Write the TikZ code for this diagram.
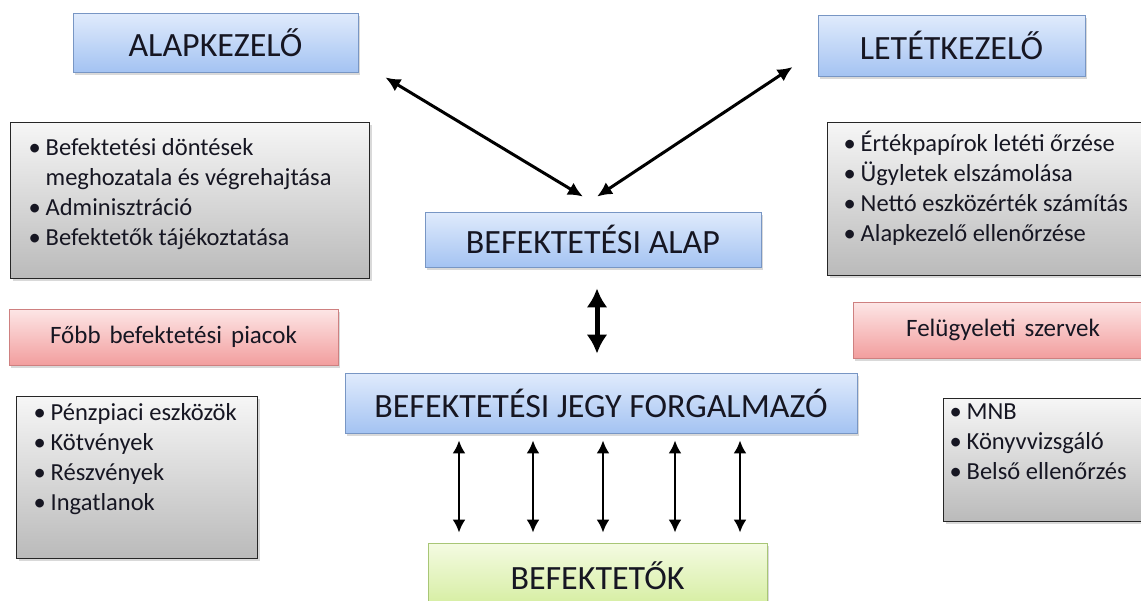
\documentclass[tikz,border=0pt]{standalone}
\usepackage{fontspec}
\setmainfont{Carlito}
\usetikzlibrary{arrows.meta,shadows,calc}
\definecolor{kekfelso}{RGB}{224,235,252}
\definecolor{kekalso}{RGB}{164,195,242}
\definecolor{kekkeret}{RGB}{120,150,196}
\definecolor{szurkefelso}{RGB}{246,246,246}
\definecolor{szurkealso}{RGB}{186,186,186}
\definecolor{pirosfelso}{RGB}{253,230,230}
\definecolor{pirosalso}{RGB}{242,158,158}
\definecolor{piroskeret}{RGB}{206,128,128}
\definecolor{zoldfelso}{RGB}{244,251,226}
\definecolor{zoldalso}{RGB}{212,237,158}
\definecolor{zoldkeret}{RGB}{168,198,118}
\definecolor{szoveg}{RGB}{22,22,34}
\newcommand{\tagolt}{\spaceskip=9pt\relax}
% width, height, left pad, top pad, items
\newcommand{\lista}[5]{\parbox[c][#2][t]{#1}{\leftskip=#3\relax\vspace*{#4}\noindent
  \begin{tabular}{@{}l@{\hspace{5pt}}l@{}}#5\end{tabular}}}
\begin{document}
\begin{tikzpicture}[x=1pt,y=-1pt,
  arnyek/.style={drop shadow={shadow xshift=2pt,shadow yshift=-2.5pt,opacity=0.3}},
  cimdoboz/.style={draw=kekkeret, line width=0.8pt, top color=kekfelso, bottom color=kekalso, arnyek,
    font=\fontsize{34}{40}\selectfont, text=szoveg, inner sep=0pt},
  listadoboz/.style={draw=black!85, line width=1pt, top color=szurkefelso, bottom color=szurkealso, arnyek,
    font=\fontsize{24.5}{30}\selectfont, text=szoveg, inner sep=0pt, anchor=north west},
  piros/.style={draw=piroskeret, line width=0.8pt, top color=pirosfelso, bottom color=pirosalso, arnyek,
    font=\fontsize{25}{30}\selectfont\tagolt, text=szoveg, inner sep=0pt},
  zold/.style={draw=zoldkeret, line width=0.8pt, top color=zoldfelso, bottom color=zoldalso, arnyek,
    font=\fontsize{34}{40}\selectfont, text=szoveg, inner sep=0pt},
  kettos/.style={{Latex[length=15pt,width=14pt]}-{Latex[length=15pt,width=14pt]}, line width=3pt},
  vastag/.style={{Latex[length=19pt,width=21pt]}-{Latex[length=19pt,width=21pt]}, line width=5pt},
  vekony/.style={{Latex[length=13pt,width=13pt]}-{Latex[length=13pt,width=13pt]}, line width=2.4pt}]
\useasboundingbox (0,0) rectangle (1141,600);

\node[cimdoboz, minimum width=285pt, minimum height=59pt] (alapkezelo) at (215.5,42.5) {ALAPKEZELŐ};
\node[cimdoboz, minimum width=267pt, minimum height=61pt] (letetkezelo) at (951.5,45.5) {LETÉTKEZELŐ};
\node[cimdoboz, minimum width=336pt, minimum height=55pt] (alap) at (593,239.5) {BEFEKTETÉSI ALAP};
\node[cimdoboz, minimum width=512pt, minimum height=60pt] (forgalmazo) at (601,403) {BEFEKTETÉSI JEGY FORGALMAZÓ};
\node[zold, minimum width=339pt, minimum height=66pt] (befektetok) at (597.5,576) {BEFEKTETŐK};

\node[piros, minimum width=329pt, minimum height=56pt] (piacok) at (173.5,337) {Főbb befektetési piacok};
\node[piros, minimum width=300pt, minimum height=56pt] (felugyelet) at (1003,330) {Felügyeleti szervek};

\node[listadoboz] (alapfeladat) at (10,122) {\lista{359pt}{156pt}{18pt}{12pt}{%
  \textbullet & Befektetési döntések\\ & meghozatala és végrehajtása\\
  \textbullet & Adminisztráció\\ \textbullet & Befektetők tájékoztatása}};
\node[listadoboz] (letetfeladat) at (827,122) {\lista{318pt}{153pt}{16pt}{8pt}{%
  \textbullet & Értékpapírok letéti őrzése\\ \textbullet & Ügyletek elszámolása\\
  \textbullet & Nettó eszközérték számítás\\ \textbullet & Alapkezelő ellenőrzése}};
\node[listadoboz] (piaclista) at (16,396) {\lista{241pt}{162pt}{17pt}{3pt}{%
  \textbullet & Pénzpiaci eszközök\\ \textbullet & Kötvények\\
  \textbullet & Részvények\\ \textbullet & Ingatlanok}};
\node[listadoboz] (szervlista) at (943,398) {\lista{202pt}{123pt}{6pt}{0pt}{%
  \textbullet & MNB\\ \textbullet & Könyvvizsgáló\\ \textbullet & Belső ellenőrzés}};

\draw[kettos] ($(alapkezelo.south east)+(27,5)$) -- ($(alap.north)+(-10,-15)$);
\draw[kettos] ($(alap.north)+(4,-15)$) -- ($(letetkezelo.west)+(-25,21.5)$);
\draw[vastag] ($(alap.south)+(4,21)$) -- ($(forgalmazo.north)+(-4,-19)$);
\foreach \dx in {-142,-68,2,74,139} {
  \coordinate (f) at ($(forgalmazo.south)+(\dx,7)$);
  \draw[vekony, shorten >=10pt] (f) -- (f |- befektetok.north);
}
\end{tikzpicture}
\end{document}
